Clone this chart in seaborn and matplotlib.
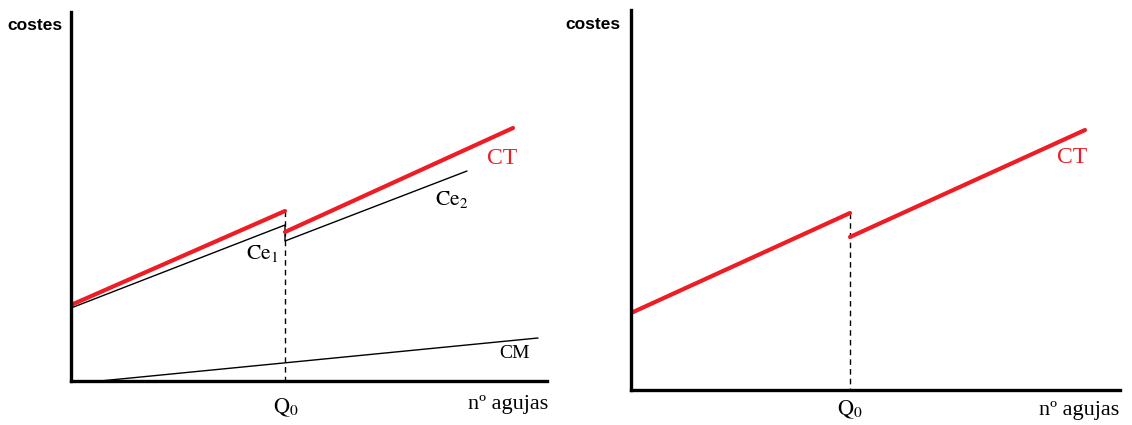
import matplotlib
matplotlib.use("Agg")
import matplotlib.pyplot as plt
import seaborn as sns

sns.set_theme(style="white")
plt.rcParams['font.family'] = ['Liberation Serif', 'DejaVu Serif']
plt.rcParams['mathtext.fontset'] = 'stix'

# ---- data (units measured from each panel's origin) ----
# left panel
ct1_x = [0, 214]
ct1_y = [76, 170]
ct2_x = [214, 442]
ct2_y = [149, 253]
ce_x = [0, 214, 214, 396]
ce_y = [73, 156, 140, 210]
cm_x = [29, 467]
cm_y = [0, 43]
q0_left = 214
# right panel
rct1_x = [0, 219]
rct1_y = [77, 177]
rct2_x = [219, 454]
rct2_y = [153, 260]
q0_right = 219

RED = "#ee1c24"
W, H = 1132, 425
fig = plt.figure(figsize=(W / 100, H / 100), dpi=100)

def make_ax(x0, y0, x1, y1):
    ax = fig.add_axes([x0 / W, (H - y0) / H, (x1 - x0) / W, (y0 - y1) / H])
    ax.set_xlim(0, x1 - x0)
    ax.set_ylim(0, y0 - y1)
    for s in ("top", "right"):
        ax.spines[s].set_visible(False)
    for s in ("left", "bottom"):
        ax.spines[s].set_color("black")
        ax.spines[s].set_linewidth(2.4)
    ax.set_xticks([])
    ax.set_yticks([])
    ax.patch.set_alpha(0)
    return ax

axL = make_ax(71, 381, 547, 12)
axR = make_ax(631, 390, 1120, 10)

def line(ax, x, y, color, lw, ls="-"):
    sns.lineplot(x=x, y=y, ax=ax, color=color, linewidth=lw, linestyle=ls,
                 sort=False, estimator=None, legend=False)

# left panel
line(axL, [q0_left, q0_left], [ct1_y[1], 0], "black", 1.0, (0, (4, 3)))
line(axL, ce_x, ce_y, "black", 1.0)
line(axL, cm_x, cm_y, "black", 1.0)
line(axL, ct1_x, ct1_y, RED, 3.0)
line(axL, ct2_x, ct2_y, RED, 3.0)

# right panel
line(axR, [q0_right, q0_right], [rct1_y[1], 0], "black", 1.0, (0, (4, 3)))
line(axR, rct1_x, rct1_y, RED, 3.0)
line(axR, rct2_x, rct2_y, RED, 3.0)

for ax in (axL, axR):
    ax.set_xlabel("")
    ax.set_ylabel("")

# texts left
axL.text(431, 223, "CT", color=RED, fontsize=17, ha="center", va="center")
axL.text(381, 181, r"$\mathrm{Ce_2}$", color="black", fontsize=15.5, ha="center", va="center")
axL.text(191, 128, r"$\mathrm{Ce_1}$", color="black", fontsize=15.5, ha="center", va="center")
axL.text(444, 28, "CM", color="black", fontsize=14, ha="center", va="center")
axL.text(215, -27, r"$\mathrm{Q_0}$", color="black", fontsize=16, ha="center", va="center", clip_on=False)
axL.text(437, -24, "nº agujas", color="black", fontsize=16, ha="center", va="center", clip_on=False)
axL.text(-36, 356, "costes", color="black", fontsize=12.5, fontweight="bold",
         family=["Liberation Sans", "DejaVu Sans"], ha="center", va="center", clip_on=False)

# texts right
axR.text(441, 232, "CT", color=RED, fontsize=17, ha="center", va="center")
axR.text(219, -20, r"$\mathrm{Q_0}$", color="black", fontsize=16, ha="center", va="center", clip_on=False)
axR.text(448, -20, "nº agujas", color="black", fontsize=16, ha="center", va="center", clip_on=False)
axR.text(-38, 365, "costes", color="black", fontsize=12.5, fontweight="bold",
         family=["Liberation Sans", "DejaVu Sans"], ha="center", va="center", clip_on=False)

fig.savefig("out.png", dpi=100, facecolor="white")
